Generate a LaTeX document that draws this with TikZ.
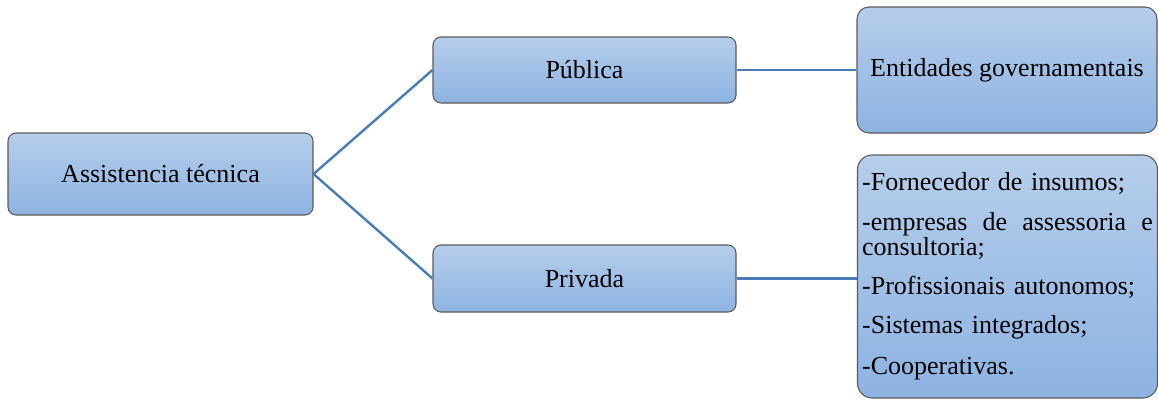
\documentclass[tikz,border=0pt]{standalone}
\usepackage{fontspec}
\setmainfont{Liberation Serif}
\definecolor{boxtop}{HTML}{B6CEEB}
\definecolor{boxbot}{HTML}{8DB3E2}
\definecolor{boxline}{HTML}{5A5A5A}
\definecolor{conn}{HTML}{4A7DB5}
\begin{document}
\begin{tikzpicture}[x=0.75pt,y=-0.75pt,
  box/.style={draw=boxline, line width=0.8pt, rounded corners=6pt,
    top color=boxtop, bottom color=boxbot, inner sep=0pt,
    font=\fontsize{19.5}{17}\selectfont},
  link/.style={draw=conn, line width=1.8pt}]
\useasboundingbox (0,0) rectangle (1158,401);
\node[box, minimum width=228.75pt, minimum height=61.5pt] (a) at (160.5,174) {Assistencia técnica};
\node[box, minimum width=227.25pt, minimum height=49.5pt] (pub) at (584.5,70) {Pública};
\node[box, minimum width=227.25pt, minimum height=50.25pt] (priv) at (584.5,278.5) {Privada};
\node[box, rounded corners=9pt, minimum width=225pt, minimum height=94.5pt] (ent) at (1007,70) {Entidades governamentais};
\node[box, rounded corners=11pt, minimum width=225pt, minimum height=182.25pt, text width=218pt, align=left] (list) at (1007.5,276.5)
  {-Fornecedor de insumos;\\[12.5pt]
   -empresas\hfill de\hfill assessoria\hfill e\\
   consultoria;\\[12.5pt]
   -Profissionais autonomos;\\[12.5pt]
   -Sistemas integrados;\\[12.5pt]
   -Cooperativas.};
\draw[link] (a.east) -- (pub.west);
\draw[link] (a.east) -- (priv.west);
\draw[link] (pub.east) -- (ent.west);
\draw[link] (priv.east) -- (list.west |- priv.east);
\end{tikzpicture}
\end{document}
